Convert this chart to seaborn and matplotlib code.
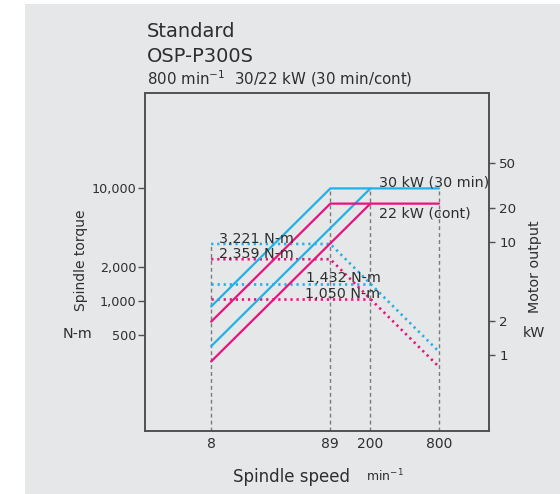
import matplotlib
matplotlib.use("Agg")
import matplotlib.pyplot as plt
import seaborn as sns
import pandas as pd
from matplotlib.patches import Rectangle
from matplotlib.ticker import NullLocator

# ---------------- data ----------------
speed_breaks = [8, 89, 200, 800]
speed_tick_labels = ["8", "89", "200", "800"]

# motor output (kW)
speed_low = [8, 89, 800]
power_30min_low = [2.70, 30.0, 30.0]
power_cont_low = [1.98, 22.0, 22.0]
speed_high = [8, 200]
power_30min_high = [1.20, 30.0]
power_cont_high = [0.88, 22.0]

# spindle torque (N-m)
torque_30min = [3221, 3221, 1432, 358]
torque_cont = [2359, 2359, 1050, 263]
torque_30min_high = [1432, 1432]
torque_cont_high = [1050, 1050]
guide_top_torque = [3221, 10000, 10000, 10000]

torque_ticks = [500, 1000, 2000, 10000]
torque_tick_labels = ["500", "1,000", "2,000", "10,000"]
power_ticks = [1, 2, 10, 20, 50]
power_tick_labels = ["1", "2", "10", "20", "50"]

torque_notes = ["3,221 N-m", "2,359 N-m", "1,432 N-m", "1,050 N-m"]
power_notes = ["30 kW (30 min)", "22 kW (cont)"]

# ---------------- style ----------------
sns.set_theme(style="white")
plt.rcParams['font.family'] = ['DejaVu Sans']
plt.rcParams['mathtext.fontset'] = 'dejavusans'

BG = "#E6E7E8"
CYAN = "#22B0E6"
MAGENTA = "#E6147F"
GUIDE = "#7A7B7E"
SPINE = "#505052"
TXT = "#2E2E2E"

W, H = 560, 494
fig = plt.figure(figsize=(W / 100, H / 100), dpi=100, facecolor="white")
fig.patches.append(Rectangle((25 / W, 0), 1, 1 - 4 / H, transform=fig.transFigure,
                             facecolor=BG, edgecolor="none", zorder=-10))

ax = fig.add_axes([145 / W, 1 - 431 / H, (489 - 145) / W, (431 - 93) / H])
ax.set_facecolor(BG)
ax.set_xscale("log")
ax.set_yscale("log")
ax2 = ax.twinx()
ax2.set_yscale("log")

solid = dict(lw=1.6, estimator=None, sort=False, legend=False)
dotted = dict(lw=1.9, estimator=None, sort=False, legend=False,
              linestyle=(0, (0.85, 1.45)), dash_capstyle="butt")

# torque (dotted) on left axis
sns.lineplot(x=speed_breaks, y=torque_30min, ax=ax, color=CYAN, zorder=3, **dotted)
sns.lineplot(x=speed_high, y=torque_30min_high, ax=ax, color=CYAN, zorder=3, **dotted)
sns.lineplot(x=speed_breaks, y=torque_cont, ax=ax, color=MAGENTA, zorder=3, **dotted)
sns.lineplot(x=speed_high, y=torque_cont_high, ax=ax, color=MAGENTA, zorder=3, **dotted)

ax.set_xlim(2.1, 2200)
ax.set_ylim(71, 70000)

# guides
ax.vlines(speed_breaks, ymin=ax.get_ylim()[0], ymax=guide_top_torque, colors=GUIDE,
          lw=1.0, linestyles=(0, (2.8, 2.2)), zorder=2)

# power (solid) on right axis
sns.lineplot(x=speed_low, y=power_30min_low, ax=ax2, color=CYAN, **solid)
sns.lineplot(x=speed_high, y=power_30min_high, ax=ax2, color=CYAN, **solid)
sns.lineplot(x=speed_low, y=power_cont_low, ax=ax2, color=MAGENTA, **solid)
sns.lineplot(x=speed_high, y=power_cont_high, ax=ax2, color=MAGENTA, **solid)

ax.set_xlim(2.1, 2200)
ax.set_ylim(71, 70000)
ax2.set_ylim(71 * 0.003, 70000 * 0.003)

# ticks
ax.set_xticks(speed_breaks, speed_tick_labels)
ax.xaxis.set_minor_locator(NullLocator())
ax.set_yticks(torque_ticks, torque_tick_labels)
ax.yaxis.set_minor_locator(NullLocator())
ax2.set_yticks(power_ticks, power_tick_labels)
ax2.yaxis.set_minor_locator(NullLocator())
ax.tick_params(axis="x", length=0, pad=4.5, labelsize=10, labelcolor=TXT)
ax.tick_params(axis="y", which="major", direction="out", length=5, width=1.0,
               color=SPINE, pad=1, labelsize=9.2, labelcolor=TXT, left=True)
ax2.tick_params(axis="y", which="major", direction="out", length=4.5, width=1.0,
                color=SPINE, pad=3, labelsize=9.6, labelcolor=TXT, right=True)
ax.set_xlabel("")
ax.set_ylabel("")
ax2.set_ylabel("")
for a in (ax, ax2):
    for s in a.spines.values():
        s.set_color(SPINE)
        s.set_linewidth(1.2)

# annotations
note_kw = dict(fontsize=10.3, color=TXT, textcoords="offset points", zorder=6)
ax2.annotate(torque_notes[0], xy=(speed_breaks[0], torque_30min[0]), xycoords=ax.transData,
             xytext=(5.5, 1), ha="left", va="baseline", **note_kw)
ax2.annotate(torque_notes[1], xy=(speed_breaks[0], torque_cont[0]), xycoords=ax.transData,
             xytext=(5.5, 1), ha="left", va="baseline", **note_kw)
ax2.annotate(torque_notes[2], xy=(speed_breaks[2], torque_30min[2]), xycoords=ax.transData,
             xytext=(7.2, 1.2), ha="right", va="baseline", **note_kw)
ax2.annotate(torque_notes[3], xy=(speed_breaks[2], torque_cont[2]), xycoords=ax.transData,
             xytext=(7.0, 0.8), ha="right", va="baseline", **note_kw)
ax2.annotate(power_notes[0], xy=(speed_breaks[2], power_30min_low[-1]), xycoords="data",
             xytext=(6, 1.5), ha="left", va="baseline", **note_kw)
ax2.annotate(power_notes[1], xy=(speed_breaks[2], power_cont_low[-1]), xycoords="data",
             xytext=(6, -2), ha="left", va="top", **note_kw)

# titles and axis labels
fig.text(147 / W, 1 - 36.7 / H, "Standard", fontsize=14, color=TXT, va="baseline")
fig.text(147 / W, 1 - 62.3 / H, "OSP-P300S", fontsize=14, color=TXT, va="baseline")
fig.text(147 / W, 1 - 84 / H, "800 min$^{-1}$  30/22 kW (30 min/cont)", fontsize=10.8,
         color=TXT, va="baseline")
fig.text(233 / W, 1 - 481.7 / H, "Spindle speed", fontsize=12, color=TXT, va="baseline")
fig.text(366 / W, 1 - 481.7 / H, "min$^{-1}$", fontsize=9, color=TXT, va="baseline")
fig.text(81 / W, 1 - 260.5 / H, "Spindle torque", fontsize=10, color=TXT, rotation=90,
         ha="center", va="center")
fig.text(78 / W, 1 - 333.5 / H, "N-m", fontsize=10.3, color=TXT, ha="center", va="center")
fig.text(535 / W, 1 - 267 / H, "Motor output", fontsize=10.3, color=TXT, rotation=90,
         ha="center", va="center")
fig.text(534 / W, 1 - 333 / H, "kW", fontsize=10.3, color=TXT, ha="center", va="center")

fig.savefig("out.png", dpi=100, facecolor="white")
